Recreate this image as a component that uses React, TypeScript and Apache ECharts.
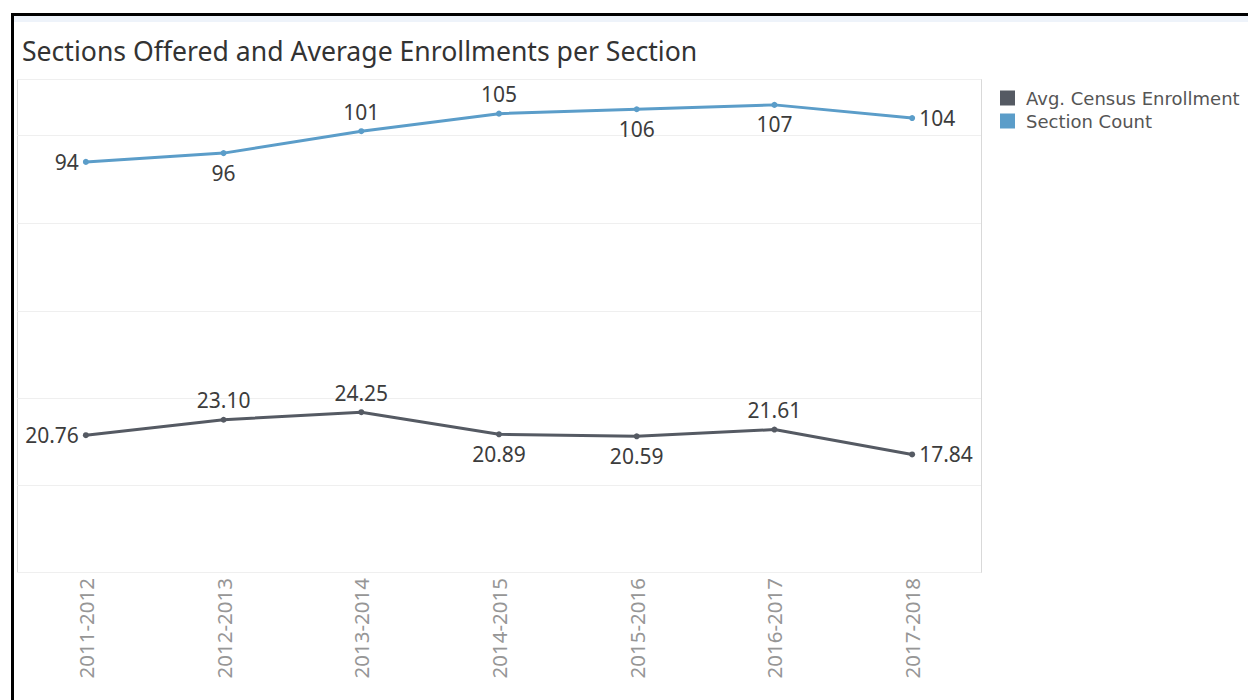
import React, { useEffect, useRef } from "react";
import * as echarts from "echarts";

const years = ["2011-2012", "2012-2013", "2013-2014", "2014-2015", "2015-2016", "2016-2017", "2017-2018"];
const sectionCount = [94, 96, 101, 105, 106, 107, 104];
const sectionLabelPos = ["left", "bottom", "top", "top", "bottom", "bottom", "right"];
const avgEnrollment = [20.76, 23.1, 24.25, 20.89, 20.59, 21.61, 17.84];
const avgLabelPos = ["left", "top", "top", "bottom", "bottom", "top", "right"];

const BLUE = "#5b9dc9";
const GREY = "#555a63";
const FONT = "'Noto Sans', 'Open Sans', sans-serif";
const LEGEND_FONT = "'DejaVu Sans', 'Noto Sans', sans-serif";

function distFor(pos: string) {
  if (pos === "bottom") return 6;
  if (pos === "top") return 6;
  return 4;
}

export default function App() {
  const ref = useRef<HTMLDivElement>(null);
  useEffect(() => {
    if (!ref.current) return;
    const chart = echarts.init(ref.current, null, { renderer: "svg" });
    const labelStyle = { fontSize: 21, color: "#3c3c3c", fontFamily: FONT };
    chart.setOption({
      animation: false,
      backgroundColor: "#ffffff",
      textStyle: { fontFamily: FONT },
      title: {
        text: "Sections Offered and Average Enrollments per Section",
        left: 17,
        top: 32,
        textStyle: { fontSize: 26.6, fontWeight: "normal", color: "#333333", fontFamily: FONT },
      },
      legend: {
        orient: "vertical",
        left: 995,
        top: 84,
        itemWidth: 15,
        itemHeight: 15,
        itemGap: 5,
        icon: "rect",
        data: ["Avg. Census Enrollment", "Section Count"],
        textStyle: { fontSize: 18, lineHeight: 18, color: "#555555", fontFamily: LEGEND_FONT, padding: [0, 0, 0, 6] },
      },
      graphic: [
        { type: "rect", shape: { x: 14, y: 16, width: 1234, height: 6 }, style: { fill: "#eef3fa" }, silent: true },
        { type: "rect", shape: { x: 11, y: 13, width: 1237, height: 3 }, style: { fill: "#000000" }, silent: true },
        { type: "rect", shape: { x: 11, y: 13, width: 3, height: 687 }, style: { fill: "#000000" }, silent: true },
        {
          type: "rect",
          shape: { x: 17.5, y: 79.5, width: 964, height: 493 },
          style: { fill: "none", stroke: "#d9d9d9", lineWidth: 1 },
          silent: true,
          z: 0,
        },
        {
          type: "line",
          shape: { x1: 18, y1: 311.5, x2: 981, y2: 311.5 },
          style: { stroke: "#e6e6e6", lineWidth: 1 },
          silent: true,
          z: 0,
        },
      ],
      grid: [
        { left: 17, top: 79, width: 964, height: 232, show: false },
        { left: 17, top: 311, width: 964, height: 261, show: false },
      ],
      xAxis: [
        {
          type: "category",
          gridIndex: 0,
          data: years,
          boundaryGap: true,
          axisLine: { show: false },
          axisTick: { show: false },
          axisLabel: { show: false },
          splitLine: { show: false },
        },
        {
          type: "category",
          gridIndex: 1,
          data: years,
          boundaryGap: true,
          axisLine: { show: false },
          axisTick: { show: false },
          axisLabel: {
            rotate: 90,
            fontSize: 20.5,
            color: "#969696",
            fontFamily: FONT,
            margin: 6,
          },
          splitLine: { show: false },
        },
      ],
      yAxis: [
        {
          type: "value",
          gridIndex: 0,
          min: 60,
          max: 112.9,
          interval: 20,
          axisLine: { show: false },
          axisTick: { show: false },
          axisLabel: { show: false },
          splitLine: { show: true, lineStyle: { color: "#efefef", width: 1 } },
        },
        {
          type: "value",
          gridIndex: 1,
          min: 0,
          max: 39.6,
          interval: 13.2,
          axisLine: { show: false },
          axisTick: { show: false },
          axisLabel: { show: false },
          splitLine: { show: true, lineStyle: { color: "#efefef", width: 1 } },
        },
      ],
      series: [
        {
          name: "Section Count",
          type: "line",
          xAxisIndex: 0,
          yAxisIndex: 0,
          data: sectionCount.map((v, i) => ({
            value: v,
            label: { position: sectionLabelPos[i], distance: distFor(sectionLabelPos[i]) },
          })),
          symbol: "circle",
          symbolSize: 6,
          lineStyle: { color: BLUE, width: 3 },
          itemStyle: { color: BLUE },
          label: { show: true, ...labelStyle },
        },
        {
          name: "Avg. Census Enrollment",
          type: "line",
          xAxisIndex: 1,
          yAxisIndex: 1,
          data: avgEnrollment.map((v, i) => ({
            value: v,
            label: { position: avgLabelPos[i], distance: distFor(avgLabelPos[i]) },
          })),
          symbol: "circle",
          symbolSize: 6,
          lineStyle: { color: GREY, width: 3 },
          itemStyle: { color: GREY },
          label: {
            show: true,
            ...labelStyle,
            formatter: (p: any) => Number(p.value).toFixed(2),
          },
        },
      ],
    });
    return () => chart.dispose();
  }, []);
  return (
    <div
      ref={ref}
      style={{ position: "fixed", left: 0, top: 0, width: 1248, height: 700 }}
    />
  );
}
